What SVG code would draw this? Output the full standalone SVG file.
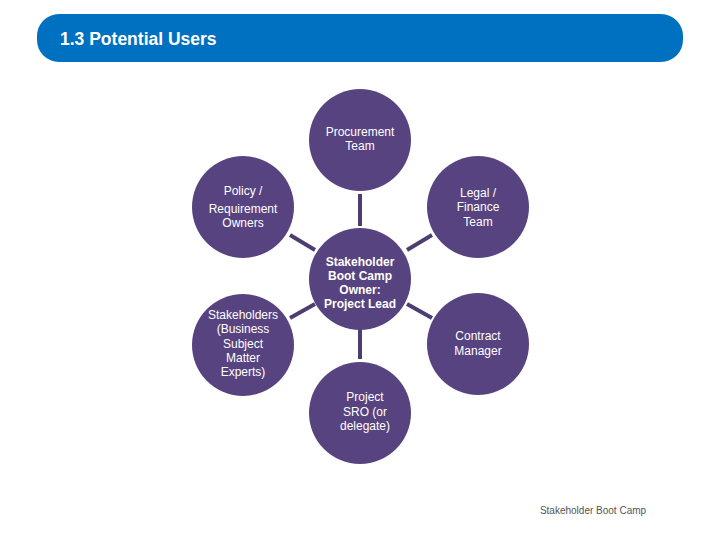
<svg xmlns="http://www.w3.org/2000/svg" width="720" height="540" viewBox="0 0 720 540">
<style>
.n{fill:#57437f}
.t{font-family:"Liberation Sans",Arial,sans-serif;font-size:12px;fill:#fff;text-anchor:middle}
.b{font-weight:bold}
.c line{stroke:#4d3e72;stroke-width:4}
</style>
<rect width="720" height="540" fill="#fff"/>
<g id="header"><rect x="37" y="14" width="646" height="48" rx="22" fill="#0070c0"/>
<text x="60" y="45" font-family="Liberation Sans,Arial,sans-serif" font-size="17.5" font-weight="bold" fill="#fff">1.3 Potential Users</text></g>
<g class="c" id="connectors">
<line x1="360" y1="194" x2="360" y2="226"/>
<line x1="360" y1="328" x2="360" y2="359"/>
<line x1="290" y1="235" x2="315" y2="250"/>
<line x1="407" y1="250" x2="432" y2="235"/>
<line x1="290" y1="318" x2="315" y2="304"/>
<line x1="407" y1="304" x2="432" y2="318"/>
</g>
<g id="center"><circle class="n" cx="360" cy="279" r="51"/>
<text class="t b"><tspan x="360" y="266">Stakeholder</tspan><tspan x="360" y="280">Boot Camp</tspan><tspan x="360" y="294">Owner:</tspan><tspan x="360" y="308">Project Lead</tspan></text></g>
<g id="procurement"><circle class="n" cx="360" cy="140" r="51"/>
<text class="t"><tspan x="360" y="136">Procurement</tspan><tspan x="360" y="150">Team</tspan></text></g>
<g id="policy"><circle class="n" cx="243" cy="207" r="51"/>
<text class="t"><tspan x="243" y="195">Policy /</tspan><tspan x="243" y="213">Requirement</tspan><tspan x="243" y="227">Owners</tspan></text></g>
<g id="legal"><circle class="n" cx="478" cy="207" r="51"/>
<text class="t"><tspan x="478" y="197">Legal /</tspan><tspan x="478" y="211">Finance</tspan><tspan x="478" y="226">Team</tspan></text></g>
<g id="stakeholders"><circle class="n" cx="243" cy="345" r="51"/>
<text class="t"><tspan x="243" y="319">Stakeholders</tspan><tspan x="243" y="333">(Business</tspan><tspan x="243" y="348">Subject</tspan><tspan x="243" y="362">Matter</tspan><tspan x="243" y="376">Experts)</tspan></text></g>
<g id="contract"><circle class="n" cx="478" cy="344" r="51"/>
<text class="t"><tspan x="478" y="340">Contract</tspan><tspan x="478" y="355">Manager</tspan></text></g>
<g id="sro"><circle class="n" cx="360" cy="413" r="51"/>
<text class="t"><tspan x="365" y="401">Project</tspan><tspan x="365" y="416">SRO (or</tspan><tspan x="365" y="430">delegate)</tspan></text></g>
<text x="593" y="514" font-family="Liberation Sans,Arial,sans-serif" font-size="10" fill="#555" text-anchor="middle">Stakeholder Boot Camp</text>
</svg>
